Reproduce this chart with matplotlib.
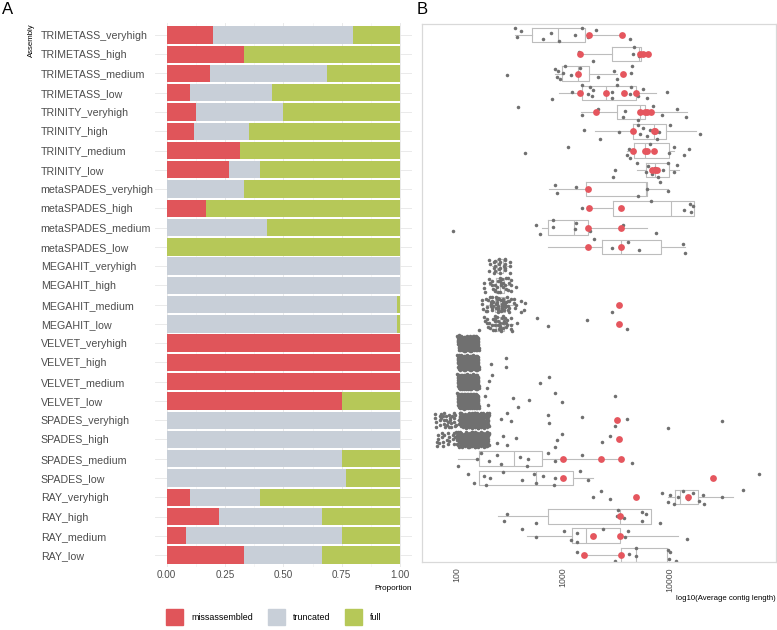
import matplotlib
matplotlib.use("Agg")
import matplotlib.pyplot as plt
from matplotlib.patches import Patch
import numpy as np

plt.rcParams['font.family'] = ['Liberation Sans', 'DejaVu Sans']

assemblies = [
    "TRIMETASS_veryhigh", "TRIMETASS_high", "TRIMETASS_medium", "TRIMETASS_low",
    "TRINITY_veryhigh", "TRINITY_high", "TRINITY_medium", "TRINITY_low",
    "metaSPADES_veryhigh", "metaSPADES_high", "metaSPADES_medium", "metaSPADES_low",
    "MEGAHIT_veryhigh", "MEGAHIT_high", "MEGAHIT_medium", "MEGAHIT_low",
    "VELVET_veryhigh", "VELVET_high", "VELVET_medium", "VELVET_low",
    "SPADES_veryhigh", "SPADES_high", "SPADES_medium", "SPADES_low",
    "RAY_veryhigh", "RAY_high", "RAY_medium", "RAY_low",
]

# panel A: proportions
missassembled = [0.2, 1/3, 0.1875, 0.10, 0.125, 2/17, 0.3125, 4/15,
                 0.0, 1/6, 0.0, 0.0,
                 0.0, 0.0, 0.0, 0.0,
                 1.0, 1.0, 1.0, 0.75,
                 0.0, 0.0, 0.0, 0.0,
                 0.10, 2/9, 1/12, 1/3]
truncated = [0.6, 0.0, 0.5, 0.35, 0.375, 4/17, 0.0, 2/15,
             1/3, 0.0, 3/7, 0.0,
             1.0, 1.0, 0.986, 0.986,
             0.0, 0.0, 0.0, 0.0,
             1.0, 1.0, 0.75, 0.77,
             0.30, 4/9, 2/3, 1/3]
full = [0.2, 2/3, 0.3125, 0.55, 0.5, 11/17, 0.6875, 0.6,
        2/3, 5/6, 4/7, 1.0,
        0.0, 0.0, 0.014, 0.014,
        0.0, 0.0, 0.0, 0.25,
        0.0, 0.0, 0.25, 0.23,
        0.60, 1/3, 0.25, 1/3]

# panel B: average contig length per sample (gray) and reference runs (red)
gray_lengths = [
    [356, 366, 403, 653, 771, 912, 1288, 1510, 1730, 2032, 4266],
    [1423, 1928, 4525, 4660, 5225],
    [297, 841, 873, 905, 938, 1009, 1046, 1191, 1445, 2150, 3020, 3200, 4335, 4430],
    [783, 1217, 1500, 1706, 1795, 1862, 1903, 2874, 2910, 3200, 4266, 4335, 5050, 5690, 6210, 9460],
    [380, 1510, 2130, 3700, 3840, 5050, 5300, 7000, 8490, 11750, 14360],
    [1577, 2230, 3390, 5050, 5300, 5690, 6110, 6560, 7600, 8060, 10160, 19590],
    [440, 1122, 3970, 4200, 4266, 5905, 6560, 10000, 11150, 13830, 15200],
    [2970, 3060, 4970, 6000, 6340, 6820, 7330, 7870, 8770, 9770, 11150, 11750],
    [848, 873, 1315, 5050, 6210, 8230, 9770],
    [1520, 6680, 13740, 15670, 16030, 16810],
    [93, 553, 608, 800, 806, 1290, 1325, 1795, 3700, 7500],
    [1960, 2874, 4110, 5225, 13550, 14000],
    [],
    [],
    [430, 440, 2870],
    [566, 718, 1671, 3970],
    [],
    [211, 289, 289],
    [192, 203, 215, 608, 739],
    [185, 196, 341, 375, 483, 836, 973, 3063],
    [260, 300, 325, 728, 739, 1521, 3063, 4035, 9660, 31150],
    [241, 271, 295, 359, 841, 873, 986, 2330, 2770],
    [104, 154, 169, 203, 238, 260, 394, 455, 472, 728, 841, 1521, 4430],
    [129, 147, 181, 189, 206, 271, 409, 534, 557, 644, 830, 847, 1446, 1733, 70310],
    [1930, 2263, 2770, 8490, 9800, 10170, 11170, 12170, 13370, 15110, 16830,
     19170, 20900, 21380, 31570, 49750],
    [281, 300, 557, 3200, 3318, 3779, 5500, 5580, 6040, 8180],
    [409, 553, 1030, 1190, 1346, 1346, 1974, 2397, 3833, 4122, 14580],
    [1346, 3063, 4212, 4864, 4864, 9660, 10020, 10170, 11490],
]

red_lengths = [
    [1740, 3614], [1445, 5300, 5690, 6340], [1394, 3700], [1445, 2543, 3750, 4830],
    [2032, 5300, 5905, 6210, 6680], [4580, 7230, 7330], [4530, 5905, 6110, 7180],
    [6930, 7340, 7610],
    [1730], [1747, 3490], [1730, 3490], [1706, 3490],
    [], [], [3390], [3370],
    [], [], [], [],
    [3246], [3367], [1007, 2281, 3493], [1007, 26000],
    [4864, 14900], [3443], [1930, 3443], [1577, 3493],
]

# crowded groups: representative lengths and how many samples sit there
dense_values = [[], [], [], [], [], [], [], [], [], [], [], [],
                [245, 265], [215, 250, 290], [200, 235, 260, 290, 330], [205, 240, 275, 310],
                [128], [128], [128], [128],
                [78, 90, 135, 160], [80, 125, 160],
                [], [], [], [], [], []]
dense_counts = [[], [], [], [], [], [], [], [], [], [], [], [],
                [12, 12], [10, 12, 10], [10, 16, 16, 12, 6], [8, 14, 12, 6],
                [150], [150], [150], [150],
                [18, 18, 90, 90], [20, 90, 90],
                [], [], [], [], [], []]

box_lo = [356, 1445, 841, 912, 1468, 2000, 3970, 4970, 738, 1747, 631, 728,
          215, 200, 190, 200, 125, 125, 125, 125, 100, 100, 104, 163,
          9800, 247, 455, 1577]
box_q1 = [508, 2910, 973, 1521, 3240, 4580, 4690, 6000, 1636, 2930, 718, 2310,
          240, 235, 230, 235, 127, 127, 127, 127, 135, 130, 163, 163,
          11330, 718, 1217, 3493]
box_med = [891, 5200, 1394, 2543, 5300, 7230, 5905, 7330, 6000, 10300, 1270, 3490,
           255, 255, 255, 255, 128, 128, 128, 128, 148, 144, 349, 557,
           12500, 3400, 1648, 4864]
box_q3 = [1600, 5380, 1772, 4830, 5905, 9310, 10000, 10000, 6210, 16930, 1730, 8300,
          275, 280, 285, 280, 129, 129, 129, 129, 160, 158, 640, 1252,
          18750, 6680, 3443, 9590]
box_hi = [3600, 5380, 3200, 7450, 14500, 17820, 11150, 12410, 9770, 16930, 6120, 14000,
          310, 330, 360, 340, 131, 131, 131, 131, 200, 200, 3493, 1903,
          39460, 6680, 12000, 9590]

RED = '#E0555A'
GREY = '#C8CFD8'
GREEN = '#B6C858'
POINT = '#707070'
POINT_RED = '#E5565E'
TXT = '#4D4D4D'


def spread(n, k):
    # deterministic low-discrepancy offsets in [-0.5, 0.5)
    i = np.arange(1, n + 1) + 11 * k
    u = (0.5 + i * 0.7548776662) % 1 - 0.5
    v = (0.5 + i * 0.5698402910) % 1 - 0.5
    return u, v


fig = plt.figure(figsize=(7.77, 6.3), dpi=100)
W, H = 777, 630
axA = fig.add_axes([155 / W, 1 - 566.6 / H, 256.7 / W, 543.2 / H])
axB = fig.add_axes([421.7 / W, 1 - 561.7 / H, 354 / W, 537.7 / H])

# ---- panel A
rows = np.arange(len(assemblies))
m = np.array(missassembled)
t = np.array(truncated)
f = np.array(full)
axA.barh(rows, m, height=0.9, color=RED, zorder=2)
axA.barh(rows, t, left=m, height=0.9, color=GREY, zorder=2)
axA.barh(rows, f, left=m + t, height=0.9, color=GREEN, zorder=2)
axA.set_xlim(-0.05, 1.05)
axA.set_ylim(len(assemblies) - 1 + 0.6, -0.6)
axA.set_xticks([0, 0.25, 0.5, 0.75, 1.0])
axA.set_xticklabels(['0.00', '0.25', '0.50', '0.75', '1.00'])
axA.set_xticks([0.125, 0.375, 0.625, 0.875], minor=True)
axA.set_yticks(rows)
axA.set_yticklabels(assemblies, ha='left')
axA.tick_params(axis='y', length=0, pad=82.3, labelsize=7.7, labelcolor=TXT)
axA.tick_params(axis='x', which='both', length=0, pad=2.5, labelsize=7.1, labelcolor=TXT)
axA.grid(True, which='major', color='#E6E6E6', lw=0.6, zorder=0)
axA.grid(True, which='minor', axis='x', color='#F0F0F0', lw=0.4, zorder=0)
axA.set_axisbelow(True)
for s in axA.spines.values():
    s.set_visible(False)

# ---- panel B
stats = []
for i in range(len(assemblies)):
    stats.append(dict(whislo=box_lo[i], q1=box_q1[i], med=box_med[i],
                      q3=box_q3[i], whishi=box_hi[i], fliers=[]))
lp = dict(color='#BDBDBD', lw=0.8)
axB.bxp(stats, positions=rows, widths=0.75, orientation='horizontal',
        showcaps=False, showfliers=False, patch_artist=False,
        boxprops=lp, whiskerprops=lp, medianprops=lp, zorder=1)

for i in range(len(assemblies)):
    g = np.array(gray_lengths[i], dtype=float)
    if len(g):
        u, v = spread(len(g), i)
        axB.scatter(g, i + 0.8 * v, s=6.5, color=POINT, lw=0, zorder=2)
    if dense_values[i]:
        d = np.repeat(dense_values[i], dense_counts[i]).astype(float)
        u, v = spread(len(d), i + 3)
        axB.scatter(10 ** (np.log10(d) + 0.2 * u), i + 0.8 * v, s=6.5,
                    color=POINT, lw=0, zorder=2)
    r = np.array(red_lengths[i], dtype=float)
    if len(r):
        axB.scatter(r, np.full(len(r), float(i)), s=24, color=POINT_RED, lw=0, zorder=3)

axB.set_xscale('log')
axB.set_xlim(46.9, 1.0e5)
axB.set_ylim(27.35, -0.571)
axB.set_xticks([100, 1000, 10000])
axB.set_xticklabels(['100', '1000', '10000'], rotation=90)
axB.xaxis.set_minor_locator(matplotlib.ticker.NullLocator())
axB.set_yticks([])
axB.tick_params(axis='x', length=0, pad=4, labelsize=6.3, labelcolor=TXT)
for s in axB.spines.values():
    s.set_color('#D9D9D9')
    s.set_linewidth(0.9)

# ---- labels
fig.text(2 / W, 1 - 9 / H, 'A', fontsize=12, va='center', ha='left')
fig.text(417 / W, 1 - 9 / H, 'B', fontsize=12, va='center', ha='left')
fig.text(31.5 / W, 1 - 23 / H, 'Assembly', rotation=90, fontsize=5.6,
         va='top', ha='center')
fig.text(411.7 / W, 1 - 588 / H, 'Proportion', fontsize=5.9, va='center', ha='right')
fig.text(775.7 / W, 1 - 598 / H, 'log10(Average contig length)', fontsize=5.6,
         va='center', ha='right')

handles = [Patch(color=RED), Patch(color=GREY), Patch(color=GREEN)]
fig.legend(handles, ['missassembled', 'truncated', 'full'], loc='center',
           bbox_to_anchor=(274 / W, 1 - 617 / H), ncol=3, frameon=False,
           fontsize=6.4, handlelength=1.9, handleheight=2.3,
           handletextpad=0.9, columnspacing=1.7, borderpad=0, borderaxespad=0)

fig.savefig('out.png', dpi=100)
